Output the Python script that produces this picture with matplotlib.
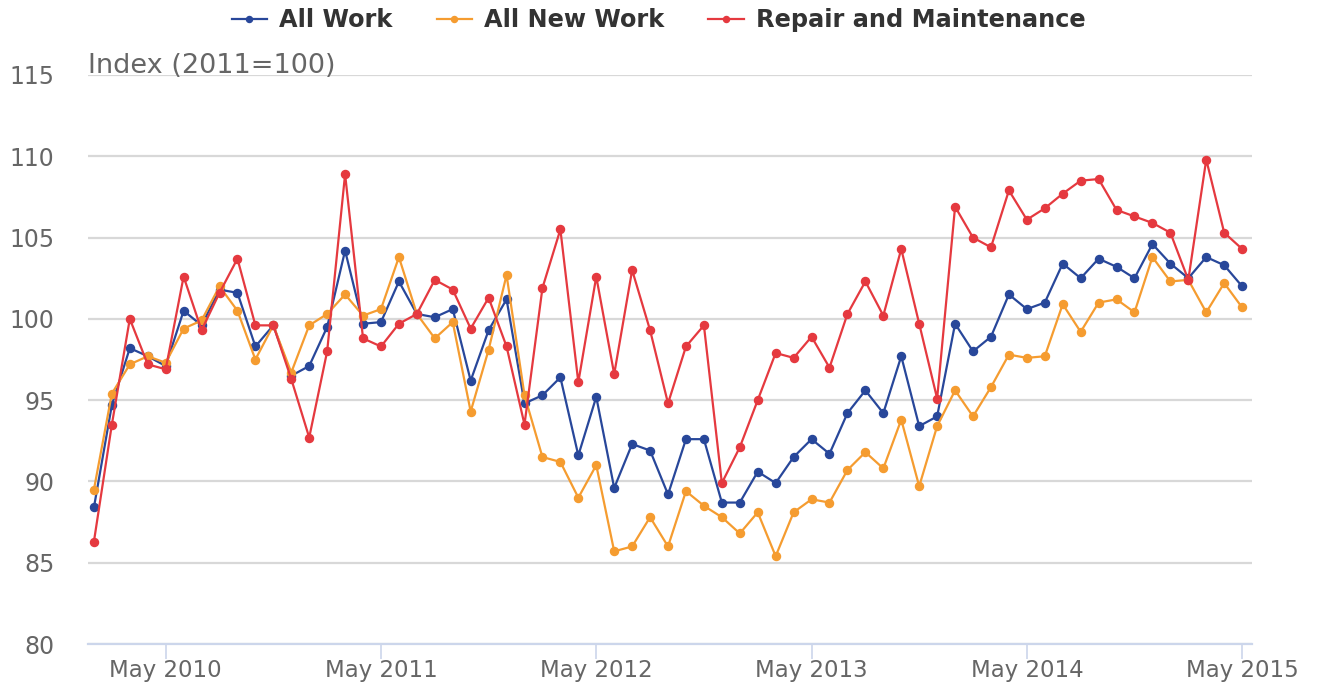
import numpy as np
import matplotlib
matplotlib.use("Agg")
import matplotlib.pyplot as plt

months = np.arange(65)  # Jan 2010 .. May 2015
tick_pos = [4, 16, 28, 40, 52, 64]
tick_labels = ["May 2010", "May 2011", "May 2012", "May 2013", "May 2014", "May 2015"]

all_work = [88.4, 94.7, 98.2, 97.7, 97.1, 100.5, 99.6, 101.8, 101.6, 98.3,
            99.6, 96.5, 97.1, 99.5, 104.2, 99.7, 99.8, 102.3, 100.3, 100.1,
            100.6, 96.2, 99.3, 101.2, 94.8, 95.3, 96.4, 91.6, 95.2, 89.6,
            92.3, 91.9, 89.2, 92.6, 92.6, 88.7, 88.7, 90.6, 89.9, 91.5,
            92.6, 91.7, 94.2, 95.6, 94.2, 97.7, 93.4, 94.0, 99.7, 98.0,
            98.9, 101.5, 100.6, 101.0, 103.4, 102.5, 103.7, 103.2, 102.5, 104.6,
            103.4, 102.5, 103.8, 103.3, 102.0]

all_new_work = [89.5, 95.4, 97.2, 97.7, 97.3, 99.4, 99.9, 102.0, 100.5, 97.5,
                99.6, 96.7, 99.6, 100.3, 101.5, 100.2, 100.6, 103.8, 100.3, 98.8,
                99.8, 94.3, 98.1, 102.7, 95.3, 91.5, 91.2, 89.0, 91.0, 85.7,
                86.0, 87.8, 86.0, 89.4, 88.5, 87.8, 86.8, 88.1, 85.4, 88.1,
                88.9, 88.7, 90.7, 91.8, 90.8, 93.8, 89.7, 93.4, 95.6, 94.0,
                95.8, 97.8, 97.6, 97.7, 100.9, 99.2, 101.0, 101.2, 100.4, 103.8,
                102.3, 102.4, 100.4, 102.2, 100.7]

repair_maint = [86.3, 93.5, 100.0, 97.2, 96.9, 102.6, 99.3, 101.6, 103.7, 99.6,
                99.6, 96.3, 92.7, 98.0, 108.9, 98.8, 98.3, 99.7, 100.3, 102.4,
                101.8, 99.4, 101.3, 98.3, 93.5, 101.9, 105.5, 96.1, 102.6, 96.6,
                103.0, 99.3, 94.8, 98.3, 99.6, 89.9, 92.1, 95.0, 97.9, 97.6,
                98.9, 97.0, 100.3, 102.3, 100.2, 104.3, 99.7, 95.1, 106.9, 105.0,
                104.4, 107.9, 106.1, 106.8, 107.7, 108.5, 108.6, 106.7, 106.3, 105.9,
                105.3, 102.4, 109.8, 105.3, 104.3]

series = [("All Work", all_work, "#28479a"),
          ("All New Work", all_new_work, "#f59c30"),
          ("Repair and Maintenance", repair_maint, "#e5393f")]

fig = plt.figure(figsize=(13.17, 6.87), dpi=100)
ax = fig.add_axes([88/1317, 1-644/687, (1252-88)/1317, (644-75)/687])

for name, vals, col in series:
    ax.plot(months, vals, color=col, lw=1.6, marker="o", ms=5.8, label=name,
            clip_on=False)

ax.set_ylim(80, 115)
ax.set_yticks(np.arange(80, 116, 5))
ax.set_xlim(-0.33, 64.55)
ax.set_xticks(tick_pos)
ax.set_xticklabels(tick_labels)

ax.grid(axis="y", color="#d8d8d8", lw=1.6)
ax.set_axisbelow(True)
for s in ["left", "right", "top"]:
    ax.spines[s].set_visible(False)
ax.spines["bottom"].set_color("#ccd6eb")
ax.spines["bottom"].set_linewidth(1.6)

ax.tick_params(axis="y", length=0, labelsize=17, labelcolor="#666666", pad=24)
ax.tick_params(axis="x", length=10.5, width=1.2, color="#ccd6eb", labelsize=16.5,
               labelcolor="#666666", pad=0)

fig.text(88/1317, 1-73/687, "Index (2011=100)", fontsize=19.5, color="#666666",
         ha="left", va="baseline")

leg = fig.legend(loc="center", bbox_to_anchor=(0.5, 1-20/687), ncol=3, frameon=False,
                 prop={"weight": "bold", "size": 17.3}, handlelength=1.46,
                 columnspacing=1.85, handletextpad=0.5, markerscale=0.75,
                 borderpad=0, borderaxespad=0)
for t in leg.get_texts():
    t.set_color("#333333")

fig.savefig("out.png", dpi=100)
